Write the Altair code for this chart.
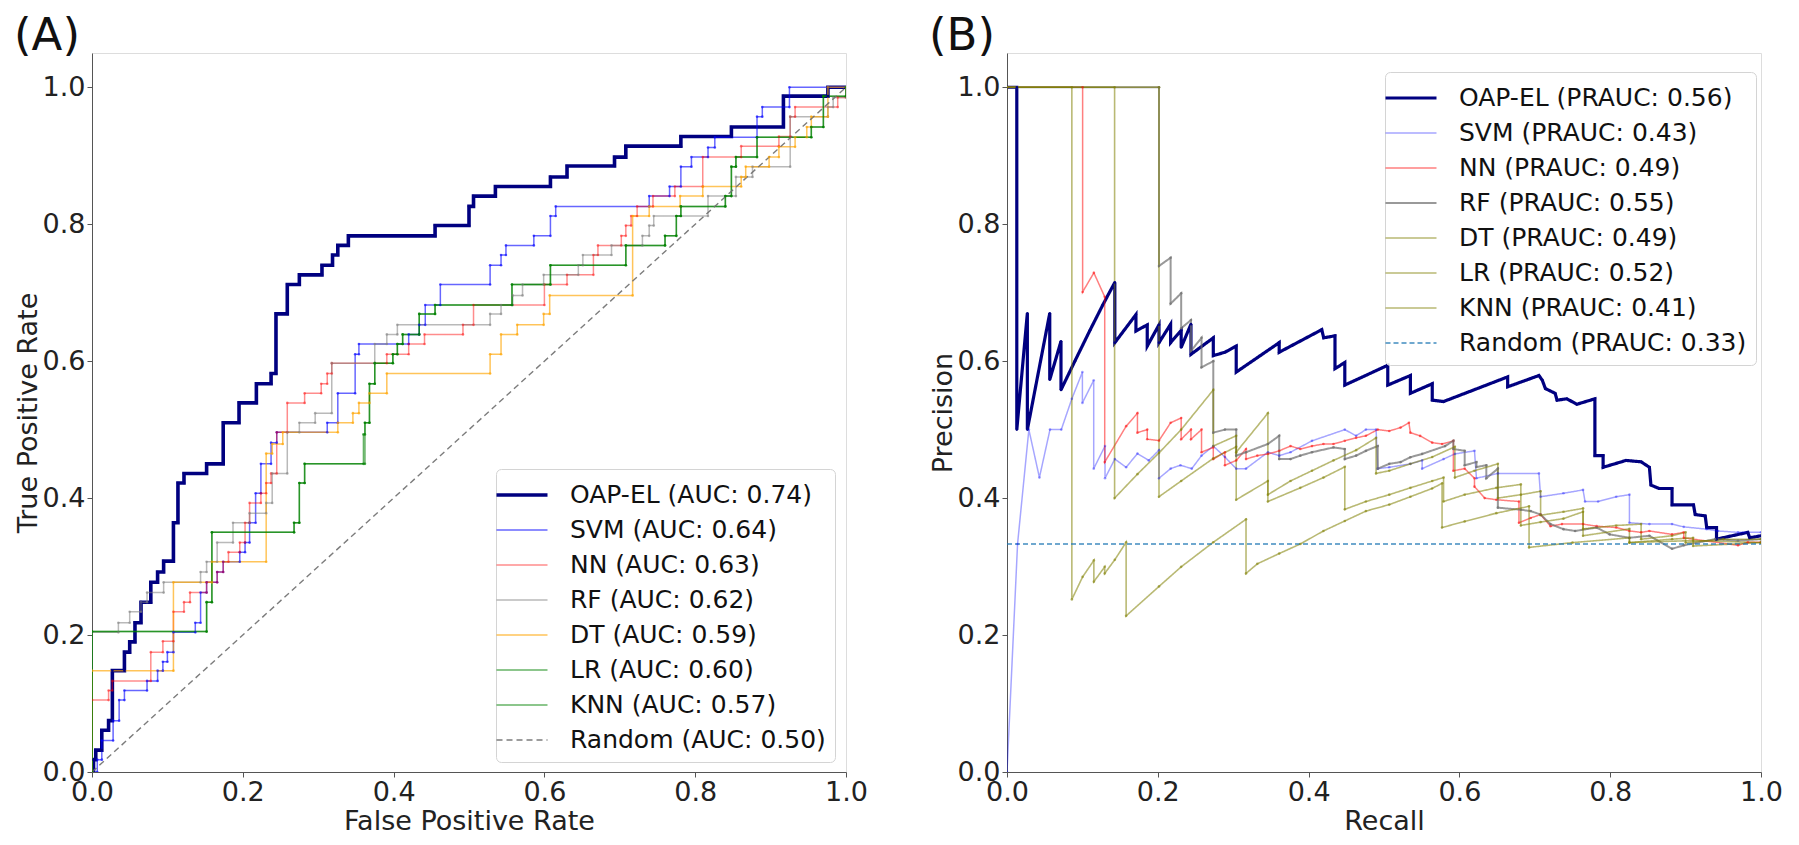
import altair as alt
import pandas as pd

FONT = "DejaVu Sans"

# ---------------- ROC panel (A): staircase vertices (fpr, tpr after each rise) ----------------
roc_labels = ["OAP-EL (AUC: 0.74)", "SVM (AUC: 0.64)", "NN (AUC: 0.63)", "RF (AUC: 0.62)",
              "DT (AUC: 0.59)", "LR (AUC: 0.60)", "KNN (AUC: 0.57)", "Random (AUC: 0.50)"]
roc_colors = ["#000080", "rgba(0,0,255,0.6)", "rgba(255,0,0,0.45)", "rgba(128,128,128,0.55)",
              "rgba(255,165,0,0.65)", "rgba(0,128,0,0.6)", "rgba(0,128,0,0.6)", "rgba(110,110,110,0.9)"]
roc_widths = [3.6, 1.5, 1.5, 1.5, 1.5, 1.5, 1.5, 1.4]

roc_oap = [(0, 0), (0.002, 0.018), (0.005, 0.032), (0.013, 0.061), (0.022, 0.075), (0.027, 0.148),
           (0.043, 0.175), (0.050, 0.190), (0.057, 0.218), (0.065, 0.248), (0.078, 0.277), (0.087, 0.292),
           (0.095, 0.308), (0.108, 0.364), (0.114, 0.422), (0.122, 0.436), (0.152, 0.450), (0.174, 0.510),
           (0.195, 0.539), (0.218, 0.567), (0.2375, 0.582), (0.244, 0.669), (0.259, 0.712), (0.275, 0.726),
           (0.305, 0.740), (0.319, 0.755), (0.326, 0.769), (0.340, 0.783), (0.455, 0.798), (0.500, 0.826),
           (0.506, 0.841), (0.535, 0.855), (0.608, 0.869), (0.630, 0.885), (0.693, 0.898), (0.708, 0.914),
           (0.781, 0.928), (0.848, 0.942), (0.917, 0.987), (0.976, 1.0), (1.0, 1.0)]
roc_svm = [(0, 0), (0.007, 0.018), (0.013, 0.046), (0.028, 0.075), (0.036, 0.105), (0.043, 0.119),
           (0.073, 0.133), (0.087, 0.148), (0.094, 0.161), (0.100, 0.175), (0.108, 0.204), (0.137, 0.218),
           (0.144, 0.262), (0.152, 0.277), (0.166, 0.292), (0.174, 0.307), (0.196, 0.321), (0.203, 0.335),
           (0.209, 0.364), (0.217, 0.407), (0.224, 0.450), (0.2375, 0.481), (0.245, 0.496), (0.312, 0.510),
           (0.326, 0.553), (0.349, 0.610), (0.354, 0.625), (0.420, 0.639), (0.434, 0.653), (0.442, 0.682),
           (0.462, 0.712), (0.528, 0.740), (0.5425, 0.755), (0.549, 0.769), (0.586, 0.783), (0.608, 0.812),
           (0.615, 0.826), (0.739, 0.841), (0.766, 0.855), (0.781, 0.884), (0.795, 0.898), (0.817, 0.912),
           (0.826, 0.927), (0.882, 0.957), (0.889, 0.971), (0.925, 1.0), (1.0, 1.0)]
roc_nn = [(0, 0), (0, 0.105), (0.022, 0.119), (0.027, 0.133), (0.078, 0.175), (0.094, 0.191), (0.108, 0.234),
          (0.122, 0.248), (0.130, 0.262), (0.152, 0.277), (0.166, 0.292), (0.174, 0.307), (0.181, 0.321),
          (0.196, 0.335), (0.203, 0.364), (0.209, 0.393), (0.224, 0.407), (0.231, 0.422), (0.2375, 0.436),
          (0.245, 0.496), (0.259, 0.539), (0.282, 0.553), (0.304, 0.567), (0.312, 0.582), (0.318, 0.597),
          (0.391, 0.610), (0.420, 0.625), (0.441, 0.639), (0.492, 0.653), (0.506, 0.682), (0.600, 0.712),
          (0.630, 0.726), (0.665, 0.755), (0.671, 0.769), (0.702, 0.783), (0.708, 0.798), (0.715, 0.812),
          (0.723, 0.826), (0.744, 0.841), (0.773, 0.855), (0.810, 0.898), (0.861, 0.914), (0.911, 0.928),
          (0.926, 0.957), (0.9325, 0.971), (0.989, 0.985), (1.0, 1.0)]
roc_rf = [(0, 0), (0, 0.204), (0.035, 0.218), (0.050, 0.234), (0.065, 0.248), (0.073, 0.262), (0.095, 0.277),
          (0.144, 0.292), (0.152, 0.307), (0.166, 0.335), (0.187, 0.364), (0.209, 0.378), (0.231, 0.393),
          (0.239, 0.436), (0.259, 0.496), (0.275, 0.510), (0.296, 0.524), (0.318, 0.597), (0.375, 0.625),
          (0.391, 0.639), (0.405, 0.653), (0.528, 0.669), (0.5425, 0.682), (0.558, 0.696), (0.571, 0.712),
          (0.599, 0.726), (0.645, 0.740), (0.651, 0.755), (0.689, 0.769), (0.730, 0.783), (0.739, 0.798),
          (0.745, 0.812), (0.817, 0.841), (0.854, 0.869), (0.876, 0.884), (0.926, 0.957), (0.976, 0.971),
          (0.983, 0.985), (1.0, 1.0)]
roc_dt = [(0, 0), (0, 0.148), (0.108, 0.277), (0.159, 0.307), (0.231, 0.465), (0.239, 0.479), (0.253, 0.496),
          (0.326, 0.510), (0.346, 0.524), (0.354, 0.539), (0.368, 0.553), (0.391, 0.582), (0.528, 0.610),
          (0.5425, 0.639), (0.564, 0.653), (0.599, 0.669), (0.607, 0.696), (0.717, 0.812), (0.739, 0.826),
          (0.780, 0.841), (0.810, 0.855), (0.861, 0.869), (0.867, 0.884), (0.898, 0.898), (0.911, 0.913),
          (0.9325, 0.927), (0.948, 0.942), (0.954, 0.957), (0.976, 1.0), (1.0, 1.0)]
roc_lr = [(0, 0), (0, 0.205), (0.152, 0.248), (0.159, 0.350), (0.268, 0.364), (0.275, 0.422), (0.282, 0.450),
          (0.362, 0.510), (0.368, 0.567), (0.375, 0.597), (0.399, 0.610), (0.405, 0.625), (0.412, 0.639),
          (0.434, 0.669), (0.455, 0.682), (0.557, 0.712), (0.608, 0.740), (0.708, 0.769), (0.760, 0.783),
          (0.775, 0.812), (0.781, 0.826), (0.840, 0.841), (0.848, 0.884), (0.854, 0.898), (0.882, 0.927),
          (0.954, 0.942), (0.970, 0.987), (1.0, 1.0)]
roc_knn = [(0, 0), (0, 0.205), (0.152, 0.248), (0.159, 0.350), (0.268, 0.364), (0.275, 0.422), (0.282, 0.450),
           (0.360, 0.493), (0.362, 0.510), (0.368, 0.567), (0.375, 0.597), (0.399, 0.610), (0.405, 0.625),
           (0.412, 0.639), (0.434, 0.669), (0.455, 0.682), (0.557, 0.712), (0.608, 0.740), (0.708, 0.769),
           (0.760, 0.783), (0.775, 0.812), (0.781, 0.826), (0.840, 0.841), (0.848, 0.884), (0.854, 0.898),
           (0.882, 0.927), (0.954, 0.942), (0.970, 0.987), (1.0, 1.0)]
roc_random = [(0, 0), (1, 1)]

# ---------------- PR panel (B): polyline vertices (recall, precision) ----------------
pr_labels = ["OAP-EL (PRAUC: 0.56)", "SVM (PRAUC: 0.43)", "NN (PRAUC: 0.49)", "RF (PRAUC: 0.55)",
             "DT (PRAUC: 0.49)", "LR (PRAUC: 0.52)", "KNN (PRAUC: 0.41)", "Random (PRAUC: 0.33)"]
pr_colors = ["#000080", "rgba(0,0,255,0.35)", "rgba(255,0,0,0.5)", "rgba(110,110,110,0.7)",
             "rgba(128,128,0,0.55)", "rgba(128,128,0,0.55)", "rgba(128,128,0,0.55)", "rgba(31,119,180,0.85)"]
pr_widths = [3.2, 1.5, 1.5, 2.0, 1.6, 1.6, 1.6, 1.4]

pr_oap = [(0.0, 1.0), (0.013, 1.0), (0.013, 0.500), (0.027, 0.670), (0.027, 0.500), (0.0567, 0.670),
          (0.0567, 0.573), (0.0716, 0.629), (0.0716, 0.558), (0.09, 0.60), (0.11, 0.645), (0.127, 0.682),
          (0.143, 0.715), (0.143, 0.627), (0.171, 0.668), (0.171, 0.644), (0.186, 0.653), (0.186, 0.622),
          (0.2016, 0.653), (0.2016, 0.627), (0.217, 0.654), (0.217, 0.627), (0.231, 0.645), (0.231, 0.620),
          (0.244, 0.654), (0.244, 0.610), (0.2736, 0.634), (0.2736, 0.608), (0.289, 0.613), (0.304, 0.622),
          (0.304, 0.584), (0.361, 0.627), (0.361, 0.613), (0.4175, 0.646), (0.420, 0.634), (0.435, 0.637),
          (0.435, 0.589), (0.448, 0.598), (0.448, 0.565), (0.505, 0.594), (0.505, 0.565), (0.535, 0.579),
          (0.535, 0.553), (0.564, 0.567), (0.564, 0.543), (0.579, 0.541), (0.664, 0.577), (0.664, 0.5625),
          (0.7055, 0.579), (0.710, 0.572), (0.714, 0.560), (0.727, 0.553), (0.7295, 0.543), (0.7426, 0.545),
          (0.7557, 0.537), (0.7797, 0.545), (0.7797, 0.462), (0.7906, 0.462), (0.7906, 0.445), (0.821, 0.455),
          (0.841, 0.453), (0.852, 0.445), (0.854, 0.419), (0.865, 0.414), (0.882, 0.414), (0.882, 0.390),
          (0.9105, 0.390), (0.9127, 0.376), (0.926, 0.374), (0.928, 0.357), (0.941, 0.357), (0.941, 0.340),
          (0.9825, 0.350), (0.985, 0.342), (1.0, 0.345)]
pr_svm = [(0, 0), (0.014, 0.333), (0.029, 0.50), (0.043, 0.43), (0.057, 0.50), (0.072, 0.50), (0.086, 0.545),
          (0.100, 0.584), (0.100, 0.539), (0.115, 0.572), (0.115, 0.443), (0.130, 0.476), (0.130, 0.429),
          (0.143, 0.457), (0.158, 0.445), (0.173, 0.465), (0.188, 0.455), (0.2016, 0.470), (0.2016, 0.429),
          (0.217, 0.443), (0.230, 0.448), (0.245, 0.443), (0.258, 0.462), (0.2736, 0.476), (0.289, 0.46),
          (0.304, 0.443), (0.317, 0.443), (0.346, 0.467), (0.361, 0.462), (0.376, 0.467), (0.4045, 0.4836),
          (0.448, 0.500), (0.463, 0.491), (0.476, 0.500), (0.4895, 0.500), (0.4917, 0.443), (0.507, 0.445),
          (0.535, 0.450), (0.5506, 0.455), (0.5506, 0.443), (0.579, 0.457), (0.594, 0.4645), (0.620, 0.469),
          (0.6226, 0.429), (0.651, 0.436), (0.7055, 0.436), (0.7077, 0.402), (0.738, 0.407), (0.764, 0.412),
          (0.7666, 0.395), (0.784, 0.395), (0.808, 0.402), (0.8255, 0.405), (0.8255, 0.364), (0.852, 0.362),
          (0.882, 0.362), (0.8975, 0.358), (0.928, 0.3546), (0.943, 0.352), (0.9695, 0.350), (1.0, 0.350)]
pr_nn = [(0, 1.0), (0.1003, 1.0), (0.1003, 0.701), (0.1152, 0.729), (0.1296, 0.694), (0.1296, 0.4526),
         (0.158, 0.505), (0.173, 0.524), (0.173, 0.4956), (0.186, 0.500), (0.186, 0.486), (0.2016, 0.484),
         (0.217, 0.51), (0.231, 0.517), (0.231, 0.486), (0.244, 0.500), (0.244, 0.486), (0.258, 0.500),
         (0.258, 0.467), (0.2736, 0.474), (0.2736, 0.457), (0.289, 0.467), (0.289, 0.448), (0.304, 0.455),
         (0.317, 0.4717), (0.317, 0.457), (0.332, 0.462), (0.346, 0.4645), (0.361, 0.469), (0.376, 0.476),
         (0.389, 0.4717), (0.4045, 0.476), (0.4197, 0.479), (0.433, 0.479), (0.448, 0.4836), (0.463, 0.488),
         (0.476, 0.491), (0.4917, 0.500), (0.507, 0.498), (0.522, 0.503), (0.533, 0.51), (0.535, 0.4956),
         (0.548, 0.4908), (0.564, 0.481), (0.577, 0.479), (0.592, 0.4836), (0.592, 0.440), (0.607, 0.443),
         (0.620, 0.429), (0.620, 0.4167), (0.6335, 0.400), (0.649, 0.3976), (0.679, 0.395), (0.679, 0.364),
         (0.6946, 0.371), (0.7077, 0.376), (0.7208, 0.359), (0.736, 0.362), (0.764, 0.362), (0.782, 0.359),
         (0.808, 0.357), (0.8255, 0.352), (0.841, 0.350), (0.852, 0.352), (0.882, 0.347), (0.8975, 0.350),
         (0.8975, 0.342), (0.9695, 0.331), (0.9825, 0.3355), (1.0, 0.3355)]
pr_rf = [(0, 1.0), (0.2016, 1.0), (0.2016, 0.739), (0.217, 0.751), (0.217, 0.684), (0.231, 0.699),
         (0.231, 0.648), (0.244, 0.660), (0.244, 0.615), (0.258, 0.634), (0.258, 0.591), (0.2736, 0.60),
         (0.2736, 0.4956), (0.289, 0.500), (0.304, 0.500), (0.304, 0.462), (0.317, 0.467), (0.346, 0.479),
         (0.361, 0.491), (0.361, 0.457), (0.376, 0.457), (0.389, 0.462), (0.4045, 0.467), (0.433, 0.474),
         (0.448, 0.4717), (0.448, 0.457), (0.463, 0.462), (0.476, 0.469), (0.4917, 0.476), (0.4917, 0.443),
         (0.507, 0.450), (0.522, 0.4526), (0.535, 0.4597), (0.5506, 0.4645), (0.581, 0.476), (0.592, 0.4836),
         (0.592, 0.4717), (0.607, 0.469), (0.607, 0.448), (0.6226, 0.4526), (0.6226, 0.4454), (0.6357, 0.448),
         (0.6357, 0.429), (0.651, 0.443), (0.651, 0.386), (0.6815, 0.383), (0.6946, 0.381), (0.7077, 0.376),
         (0.7208, 0.362), (0.738, 0.3546), (0.7535, 0.352), (0.782, 0.357), (0.7993, 0.347), (0.8255, 0.342),
         (0.852, 0.345), (0.882, 0.326), (0.8975, 0.331), (0.939, 0.340), (0.9695, 0.338), (1.0, 0.340)]
pr_dt = [(0, 1.0), (0.2016, 1.0), (0.2016, 0.402), (0.231, 0.425), (0.2736, 0.458), (0.304, 0.475),
         (0.304, 0.467), (0.346, 0.524), (0.346, 0.405), (0.376, 0.425), (0.4045, 0.44), (0.433, 0.455),
         (0.463, 0.47), (0.4895, 0.488), (0.4895, 0.436), (0.507, 0.44), (0.535, 0.45), (0.564, 0.46),
         (0.594, 0.475), (0.594, 0.43), (0.62, 0.44), (0.651, 0.45), (0.651, 0.40), (0.6815, 0.405),
         (0.7077, 0.41), (0.7077, 0.375), (0.738, 0.38), (0.764, 0.385), (0.764, 0.355), (0.808, 0.36),
         (0.841, 0.362), (0.841, 0.34), (0.882, 0.345), (0.9, 0.35), (0.9, 0.335), (0.95, 0.34), (1.0, 0.34)]
pr_lr = [(0, 1.0), (0.1427, 1.0), (0.1427, 0.400), (0.173, 0.435), (0.2016, 0.466), (0.231, 0.50),
         (0.2736, 0.558), (0.2736, 0.476), (0.304, 0.491), (0.304, 0.3976), (0.346, 0.425), (0.346, 0.395),
         (0.389, 0.415), (0.4197, 0.43), (0.448, 0.4456), (0.448, 0.3836), (0.476, 0.395), (0.507, 0.405),
         (0.535, 0.415), (0.564, 0.425), (0.579, 0.43), (0.579, 0.395), (0.607, 0.405), (0.649, 0.415),
         (0.6815, 0.42), (0.6815, 0.36), (0.7077, 0.365), (0.738, 0.37), (0.764, 0.38), (0.764, 0.345),
         (0.8255, 0.355), (0.8255, 0.335), (0.882, 0.34), (0.91, 0.342), (0.91, 0.33), (1.0, 0.335)]
pr_knn = [(0, 1.0), (0.086, 1.0), (0.086, 0.252), (0.1003, 0.285), (0.1152, 0.309), (0.1152, 0.278),
          (0.1296, 0.2996), (0.1296, 0.29), (0.143, 0.31), (0.158, 0.3355), (0.158, 0.228), (0.2016, 0.271),
          (0.231, 0.2996), (0.2736, 0.3355), (0.317, 0.369), (0.317, 0.290), (0.332, 0.304), (0.361, 0.319),
          (0.389, 0.333), (0.4197, 0.352), (0.448, 0.3666), (0.476, 0.381), (0.507, 0.3905), (0.535, 0.402),
          (0.5637, 0.414), (0.577, 0.4215), (0.577, 0.357), (0.607, 0.366), (0.649, 0.378), (0.6924, 0.388),
          (0.6924, 0.328), (0.75, 0.335), (0.8255, 0.342), (0.8255, 0.335), (0.91, 0.338), (1.0, 0.335)]
pr_random = [(0, 0.333), (1, 0.333)]

ticks = [0.0, 0.2, 0.4, 0.6, 0.8, 1.0]


def staircase(steps):
    pts = [steps[0]]
    for k in range(1, len(steps)):
        pts.append((steps[k][0], steps[k - 1][1]))
        pts.append(steps[k])
    return pts


def frame(series, labels):
    rows = []
    for lab, pts in zip(labels, series):
        for k, (a, b) in enumerate(pts):
            rows.append({"label": lab, "i": k, "x": a, "y": b, "rand": lab.startswith("Random")})
    return pd.DataFrame(rows)


roc_df = frame([staircase(s) for s in [roc_oap, roc_svm, roc_nn, roc_rf, roc_dt, roc_lr, roc_knn]] + [roc_random],
               roc_labels)
pr_df = frame([pr_oap, pr_svm, pr_nn, pr_rf, pr_dt, pr_lr, pr_knn, pr_random], pr_labels)


def axis(title, tpad):
    return alt.Axis(values=ticks, format=".1f", title=title, grid=False, labelFontSize=27, titleFontSize=27,
                    labelFont=FONT, titleFont=FONT, titleFontWeight="normal", tickSize=5, labelPadding=2,
                    titlePadding=tpad, labelFlush=False, labelOverlap=False, domainColor="#555",
                    tickColor="#555", labelColor="#222", titleColor="#222")


def panel(df, labels, colors, widths, dash_last, tag, xtitle, ytitle, lx, ly):
    dashes = [[1, 0]] * (len(labels) - 1) + [dash_last]
    leg = alt.Legend(title=None, orient="none", legendX=lx, legendY=ly, symbolType="M-1.7,0H1.7",
                     symbolSize=900, labelFontSize=25, labelFont=FONT, labelColor="#111", labelLimit=0,
                     labelOffset=31, rowPadding=6, padding=9, fillColor="rgba(255,255,255,0.85)",
                     strokeColor="#d4d4d4", cornerRadius=5)
    cscale = alt.Scale(domain=labels, range=colors)
    x = alt.X("x:Q", scale=alt.Scale(domain=[0, 1], nice=False, zero=False), axis=axis(xtitle, 3))
    y = alt.Y("y:Q", scale=alt.Scale(domain=[0, 1.05], nice=False), axis=axis(ytitle, 0))
    lines = alt.Chart(df).mark_line(clip=True).encode(
        x=x, y=y,
        color=alt.Color("label:N", scale=cscale, legend=leg),
        strokeWidth=alt.StrokeWidth("label:N", scale=alt.Scale(type="ordinal", domain=labels, range=widths),
                                    legend=leg),
        strokeDash=alt.StrokeDash("label:N", scale=alt.Scale(domain=labels, range=dashes), legend=leg),
        order=alt.Order("i:Q"),
    )
    points = alt.Chart(df).transform_filter("!datum.rand").mark_circle(size=7, opacity=1, clip=True).encode(
        x=x, y=y, color=alt.Color("label:N", scale=cscale, legend=None))
    return alt.layer(lines, points).properties(
        width=754, height=719,
        title=alt.TitleParams(tag, anchor="start", frame="bounds", fontSize=45, font=FONT,
                              fontWeight="normal", color="#111", offset=-6))


left = panel(roc_df, roc_labels, roc_colors, roc_widths, [6, 4], "(A)",
             "False Positive Rate", "True Positive Rate", 404, 416)
right = panel(pr_df, pr_labels, pr_colors, pr_widths, [5, 3], "(B)",
              "Recall", "Precision", 378, 19)

chart = alt.hconcat(left, right, spacing=60).resolve_scale(
    color="independent", strokeWidth="independent", strokeDash="independent", x="independent", y="independent"
).resolve_legend(color="independent", strokeWidth="independent", strokeDash="independent").configure_view(
    stroke="#666", strokeWidth=1.2
).configure(background="white")

chart.save("out.html", embed_options={"renderer": "svg", "actions": False})
